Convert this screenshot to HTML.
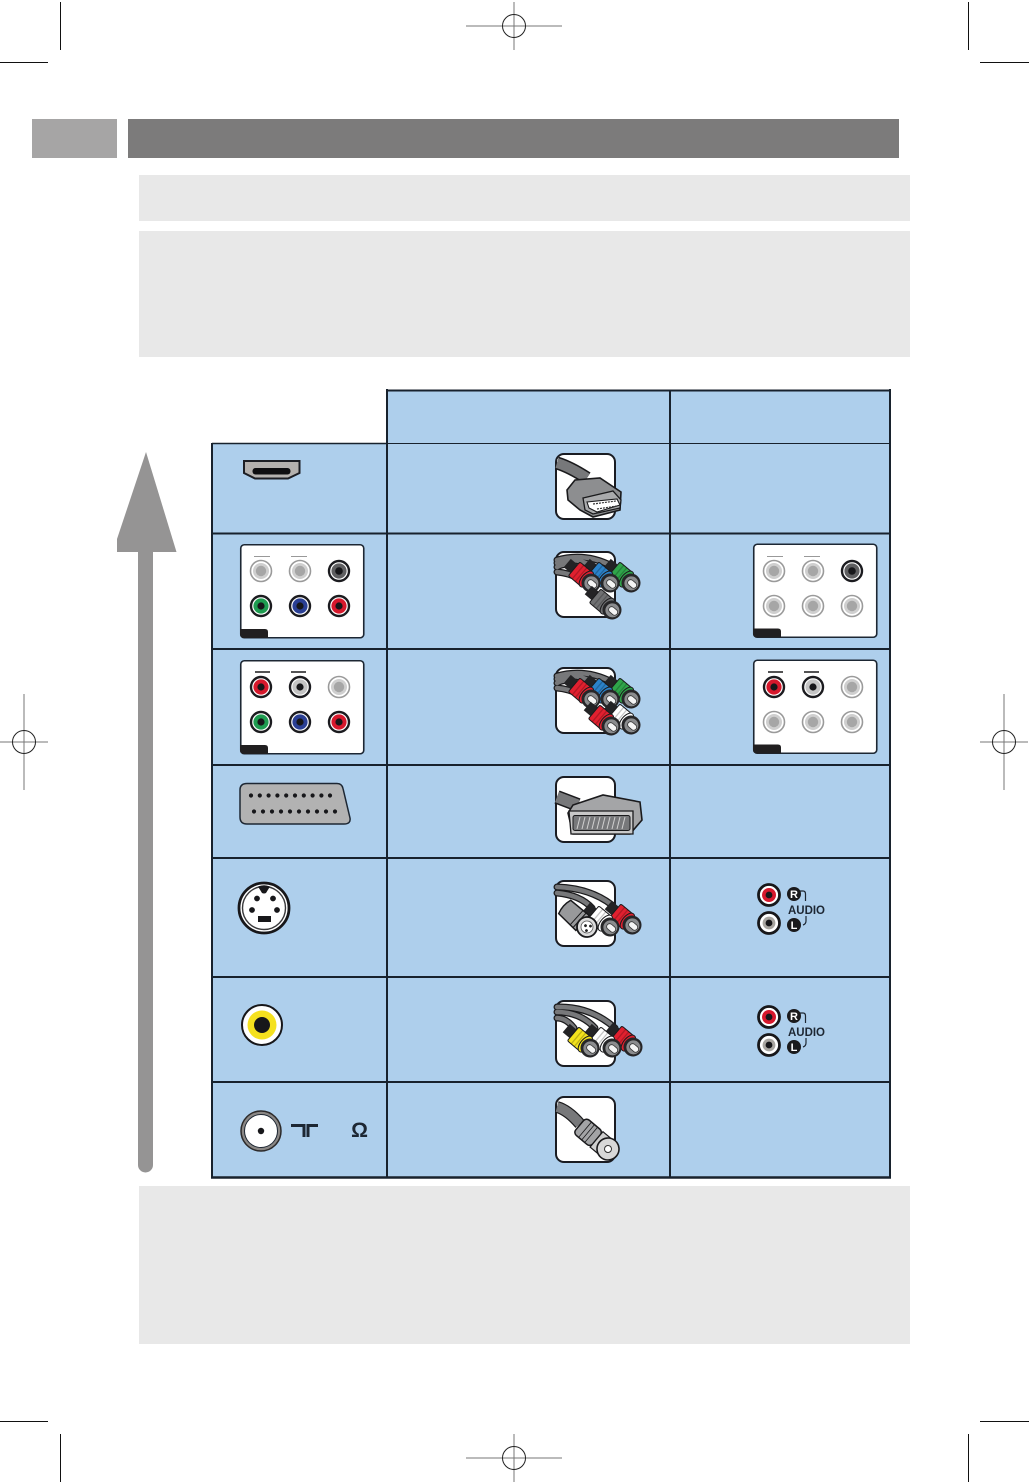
<!DOCTYPE html>
<html><head><meta charset="utf-8"><title>Connection quality</title>
<style>html,body{margin:0;padding:0;background:#fff}svg{display:block}text{font-family:"Liberation Sans",sans-serif}</style></head>
<body>
<svg xmlns="http://www.w3.org/2000/svg" width="1029" height="1483" viewBox="0 0 1029 1483">
<defs>
<g id="reg" fill="none"><path d="M-48 0H48M0 -24V24" stroke="#777" stroke-width="1"/><circle r="11.500" stroke="#222" stroke-width="1"/></g>
<g id="regv" fill="none"><path d="M-24 0H24M0 -48V48" stroke="#777" stroke-width="1"/><circle r="11.500" stroke="#222" stroke-width="1"/></g>
<g id="jg"><circle r="10.500" fill="#fff" stroke="#9a9a9a" stroke-width="1.600"/><circle r="8" fill="#cfcfcf"/><circle r="5.200" fill="#a6a6a6"/></g>
<g id="jk"><circle r="10" fill="#fff" stroke="#1b1b1f" stroke-width="2.400"/><circle r="7.600" fill="#5f5f61"/><circle r="3.800" fill="#17171a"/></g>
<g id="jgr"><circle r="10" fill="#fff" stroke="#1b1b1f" stroke-width="2.400"/><circle r="7.600" fill="#1e9c50"/><circle r="3.600" fill="#17171a"/></g>
<g id="jb"><circle r="10" fill="#fff" stroke="#1b1b1f" stroke-width="2.400"/><circle r="7.600" fill="#2a3f94"/><circle r="3.600" fill="#17171a"/></g>
<g id="jr"><circle r="10" fill="#fff" stroke="#1b1b1f" stroke-width="2.400"/><circle r="7.600" fill="#d6182c"/><circle r="3.600" fill="#17171a"/></g>
<g id="jw"><circle r="10" fill="#fff" stroke="#1b1b1f" stroke-width="2.400"/><circle r="7.600" fill="#c4c4c4"/><circle r="3.600" fill="#17171a"/></g>
<g id="panel"><rect x="0.750" y="0.750" width="123" height="93" rx="3.500" fill="#fff" stroke="#1d2733" stroke-width="1.600"/><path d="M0 85H25q3 0 3 3V94H4q-4 0-4-4Z" fill="#211f20"/></g>
<g id="plug">
<rect x="-31" y="-5.500" width="12" height="11" fill="#232325"/>
<path d="M-22 -7.500Q-22 -9 -20 -9H-8V9H-20Q-22 9 -22 7.500Z" fill="currentColor" stroke="#1a1a1c" stroke-width="1"/>
<path d="M-17 -9V9M-13 -9V9" stroke="#000" stroke-opacity=".22" stroke-width="1.300"/>
<ellipse cx="-6" rx="5" ry="9.500" fill="currentColor" stroke="#1a1a1c" stroke-width="1"/>
<circle cx="0" cy="0" r="9.500" fill="#262628"/>
<circle cx="0.500" cy="0" r="7" fill="#8b8c8e"/>
<rect x="-3.500" y="-3" width="10" height="6" rx="3" fill="#f4f4f4" stroke="#333" stroke-width=".8"/>
</g>
<g id="box"><rect x="0" y="0" width="59" height="65" rx="8" fill="#fff" stroke="#1a1c22" stroke-width="2"/></g>
<g id="audio">
<circle cx="0" cy="0" r="10.500" fill="#fff" stroke="#17171a" stroke-width="2.800"/><circle r="7" fill="#d6182c"/><circle r="3.400" fill="#17171a"/>
<circle cx="0" cy="28" r="10.500" fill="#fff" stroke="#17171a" stroke-width="2.800"/><circle cy="28" r="6.400" fill="#a8a5a0"/><circle cy="28" r="3.400" fill="#17171a"/>
<path d="M31 -4h3q2.500 0 2.500 3v7M37 21v5q0 3-3 4" fill="none" stroke="#1d2733" stroke-width="1.200"/>
<circle cx="25" cy="-1" r="7" fill="#1a1a1c"/><circle cx="25" cy="30" r="7" fill="#1a1a1c"/>
<text x="25" y="3" font-size="11" font-weight="bold" fill="#fff" text-anchor="middle">R</text>
<text x="25" y="34" font-size="11" font-weight="bold" fill="#fff" text-anchor="middle">L</text>
<text x="19" y="19" font-size="11.500" fill="#1d2733" font-weight="bold" textLength="37">AUDIO</text>
</g>
</defs>

<rect width="1029" height="1483" fill="#fff"/>

<!-- crop marks -->
<g stroke="#111" stroke-width="1" fill="none">
<path d="M60.500 2V50M0 62.500H48M968.500 2V50M980 62.500H1029M60.500 1434V1482M0 1421.500H48M968.500 1434V1482M980 1421.500H1029"/>
</g>
<use href="#reg" x="514" y="26"/><use href="#reg" x="514" y="1458"/>
<use href="#regv" x="24" y="742"/><use href="#regv" x="1004" y="742"/>

<!-- header -->
<rect x="32" y="119" width="85" height="39" fill="#a6a5a5"/>
<rect x="128" y="119" width="771" height="39" fill="#7c7b7b"/>
<rect x="139" y="175" width="771" height="46" fill="#e8e8e8"/>
<rect x="139" y="231" width="771" height="126" fill="#e8e8e8"/>
<rect x="139" y="1186" width="771" height="158" fill="#e8e8e8"/>

<!-- arrow -->
<path d="M146 452L176.500 552H117V539Z" fill="#959494"/>
<path d="M138 550H153V1165a7.500 7.500 0 0 1-15 0Z" fill="#959494"/>

<!-- table -->
<rect x="387" y="390" width="503" height="53" fill="#aecfec"/>
<rect x="212" y="443" width="678" height="735" fill="#aecfec"/>
<g stroke="#18222d" fill="none">
<path d="M386 390.500H891" stroke-width="2"/>
<path d="M387 443.500H890" stroke-width="1"/>
<path d="M212 443.500H387" stroke-width="1.500"/>
<path d="M212 533.500H890M212 649H890M212 765H890M212 858H890M212 977H890M212 1082H890" stroke-width="2"/>
<path d="M211 1177.500H891" stroke-width="2.600"/>
<path d="M212 443V1178M387 389V1178M670 390V1178M890 389V1178" stroke-width="2"/>
</g>

<!-- left jacks -->
<path d="M244 461H299.500V473L288 478.500H255L244 473Z" fill="#b4b1ae" stroke="#1c1e24" stroke-width="2"/>
<rect x="252.500" y="468" width="38" height="6.500" rx="3" fill="#0e0e10"/>

<use href="#panel" x="240" y="544"/>
<path d="M254 556.500H270M291 556.500H307" stroke="#999" stroke-width="1"/>
<use href="#jg" x="261" y="571"/><use href="#jg" x="300" y="571"/><use href="#jk" x="339" y="571"/>
<use href="#jgr" x="261" y="606"/><use href="#jb" x="300" y="606"/><use href="#jr" x="339" y="606"/>

<use href="#panel" x="240" y="660"/>
<path d="M255 672H270M291 672H306" stroke="#1a1a1c" stroke-width="1.600"/>
<use href="#jr" x="261" y="687"/><use href="#jw" x="300" y="687"/><use href="#jg" x="339" y="687"/>
<use href="#jgr" x="261" y="722"/><use href="#jb" x="300" y="722"/><use href="#jr" x="339" y="722"/>

<path d="M247 783.500H337q5 0 6 5L350 818q1 6-6 6H247q-7 0-7-7V790q0-6.500 7-6.500Z" fill="#b2b2b2" stroke="#1d2733" stroke-width="1.500"/>
<g fill="#17171a">
<circle cx="251" cy="795.500" r="2.100"/><circle cx="259.800" cy="795.500" r="2.100"/><circle cx="268.600" cy="795.500" r="2.100"/><circle cx="277.400" cy="795.500" r="2.100"/><circle cx="286.200" cy="795.500" r="2.100"/><circle cx="295" cy="795.500" r="2.100"/><circle cx="303.800" cy="795.500" r="2.100"/><circle cx="312.600" cy="795.500" r="2.100"/><circle cx="321.400" cy="795.500" r="2.100"/><circle cx="330" cy="795.500" r="2.100"/>
<circle cx="254" cy="811.500" r="2.100"/><circle cx="263" cy="811.500" r="2.100"/><circle cx="272" cy="811.500" r="2.100"/><circle cx="281" cy="811.500" r="2.100"/><circle cx="290" cy="811.500" r="2.100"/><circle cx="299" cy="811.500" r="2.100"/><circle cx="308" cy="811.500" r="2.100"/><circle cx="317" cy="811.500" r="2.100"/><circle cx="326" cy="811.500" r="2.100"/><circle cx="335" cy="811.500" r="2.100"/>
</g>

<circle cx="264" cy="908" r="25" fill="#fff" stroke="#17171a" stroke-width="2.800"/>
<circle cx="264" cy="908" r="21.500" fill="#fff" stroke="#3a3a3c" stroke-width="1.400"/>
<path d="M258 886.500Q264 884 270 886.500L266 893Q264 894 262 893Z" fill="#17171a"/>
<g fill="#17171a"><circle cx="257" cy="898.500" r="2.900"/><circle cx="273" cy="898.500" r="2.900"/><circle cx="252" cy="910" r="2.900"/><circle cx="277" cy="910" r="2.900"/><rect x="258" y="916" width="13" height="6"/></g>

<circle cx="262" cy="1025" r="20" fill="#fff" stroke="#17171a" stroke-width="2"/>
<circle cx="262" cy="1025" r="14.500" fill="#f5e11e"/>
<circle cx="262" cy="1025" r="8" fill="#17171a"/>

<circle cx="261" cy="1131" r="20" fill="#8a8785" stroke="#2c2a2a" stroke-width="1.500"/>
<circle cx="261" cy="1131" r="16.500" fill="#fff" stroke="#1d2733" stroke-width="1"/>
<circle cx="261" cy="1131" r="3.200" fill="#17171a"/>
<path d="M291 1125.500H304V1137M318 1125.500H308V1137" fill="none" stroke="#1d2733" stroke-width="3"/>
<text x="359.500" y="1137" font-size="21" font-weight="bold" fill="#1d2733" text-anchor="middle" style="font-family:'Liberation Sans',sans-serif">Ω</text>

<!-- right jacks -->
<use href="#panel" x="753" y="543.500"/>
<path d="M767 556.500H783M804 556.500H820" stroke="#999" stroke-width="1"/>
<use href="#jg" x="774" y="571"/><use href="#jg" x="813" y="571"/><use href="#jk" x="852" y="571"/>
<use href="#jg" x="774" y="606"/><use href="#jg" x="813" y="606"/><use href="#jg" x="852" y="606"/>
<use href="#panel" x="753" y="659.500"/>
<path d="M768 672H783M804 672H819" stroke="#1a1a1c" stroke-width="1.600"/>
<use href="#jr" x="774" y="687"/><use href="#jw" x="813" y="687"/><use href="#jg" x="852" y="687"/>
<use href="#jg" x="774" y="722"/><use href="#jg" x="813" y="722"/><use href="#jg" x="852" y="722"/>

<use href="#audio" x="769" y="895"/>
<use href="#audio" x="769" y="1017"/>

<!-- HDMI connector -->
<use href="#box" x="556" y="454"/>
<path d="M557 463Q570 467 587 478" fill="none" stroke="#1a1a1c" stroke-width="13"/>
<path d="M557 463Q570 467 587 478" fill="none" stroke="#77787a" stroke-width="10"/>
<path d="M567 490L575 480L600 478L621 492L620 510L593 517L580 510L568 500Z" fill="#8d8e90" stroke="#1a1a1c" stroke-width="1.600"/>
<path d="M583 498L613 491L621 500L620 508L593 514L585 510Z" fill="#a9aaac" stroke="#1a1a1c" stroke-width="1.300"/>
<path d="M587 502L617 499L620 505L597 512L589 508Z" fill="#fff" stroke="#1a1a1c" stroke-width="1.100"/>
<path d="M593 504L616 501M597 509L617 506" stroke="#333" stroke-width="1.200" stroke-dasharray="2 1"/>

<!-- Component 1 -->
<use href="#box" x="556" y="552"/>
<g fill="none" stroke-linecap="round">
<g stroke="#1a1a1c" stroke-width="7"><path d="M557 560Q585 552 612 566"/><path d="M557 563Q575 556 592 566"/><path d="M557 567Q566 562 574 567"/><path d="M557 572Q580 574 594 592"/></g>
<g stroke="#77787a" stroke-width="4.500"><path d="M557 560Q585 552 612 566"/><path d="M557 563Q575 556 592 566"/><path d="M557 567Q566 562 574 567"/><path d="M557 572Q580 574 594 592"/></g>
</g>
<use href="#plug" transform="translate(631 583) rotate(40)" color="#2fa54a"/>
<use href="#plug" transform="translate(610 583) rotate(40)" color="#2b82c9"/>
<use href="#plug" transform="translate(591 583) rotate(40)" color="#e0202f"/>
<use href="#plug" transform="translate(612 610) rotate(40)" color="#6f7072"/>

<!-- Component 2 -->
<use href="#box" x="556" y="668"/>
<g fill="none" stroke-linecap="round">
<g stroke="#1a1a1c" stroke-width="7"><path d="M557 676Q585 668 612 682"/><path d="M557 679Q575 672 592 682"/><path d="M557 683Q566 678 574 683"/><path d="M557 688Q580 690 594 707"/></g>
<g stroke="#77787a" stroke-width="4.500"><path d="M557 676Q585 668 612 682"/><path d="M557 679Q575 672 592 682"/><path d="M557 683Q566 678 574 683"/><path d="M557 688Q580 690 594 707"/></g>
</g>
<use href="#plug" transform="translate(631 699) rotate(40)" color="#2fa54a"/>
<use href="#plug" transform="translate(610 699) rotate(40)" color="#2b82c9"/>
<use href="#plug" transform="translate(591 699) rotate(40)" color="#e0202f"/>
<use href="#plug" transform="translate(631 725) rotate(40)" color="#ffffff"/>
<use href="#plug" transform="translate(611 726) rotate(40)" color="#e0202f"/>

<!-- SCART connector -->
<use href="#box" x="556" y="777"/>
<path d="M557 797L578 805" fill="none" stroke="#1a1a1c" stroke-width="14"/>
<path d="M557 797L578 805" fill="none" stroke="#77787a" stroke-width="11"/>
<path d="M568 813L573 805L603 795L640 802L642 820L630 834L573 834Z" fill="#a4a5a7" stroke="#1a1a1c" stroke-width="1.600"/>
<path d="M569 811H633V834H571Z" fill="#c8c8c8" stroke="#1a1a1c" stroke-width="1.300"/>
<rect x="573" y="815.500" width="57" height="15" rx="2" fill="#77787a" stroke="#1a1a1c"/>
<path d="M577 829L580 817M582 829L585 817M587 829L590 817M592 829L595 817M597 829L600 817M602 829L605 817M607 829L610 817M612 829L615 817M617 829L620 817M622 829L625 817" stroke="#d0d0d0" stroke-width="1"/>

<!-- S-video -->
<use href="#box" x="556" y="881"/>
<g fill="none" stroke-linecap="round">
<g stroke="#1a1a1c" stroke-width="7"><path d="M557 887Q590 888 612 905"/><path d="M557 893Q580 895 592 908"/></g>
<g stroke="#77787a" stroke-width="4.500"><path d="M557 887Q590 888 612 905"/><path d="M557 893Q580 895 592 908"/></g>
</g>
<use href="#plug" transform="translate(632 925) rotate(40)" color="#e0202f"/>
<use href="#plug" transform="translate(610 927) rotate(40)" color="#ffffff"/>
<g transform="translate(587 927) rotate(42)">
<path d="M-30 -9Q-33 0 -30 9L-6 10V-10Z" fill="#98999b" stroke="#1a1a1c" stroke-width="1.500"/>
<path d="M-14 -10V10M-10 -10V10" stroke="#1a1a1c" stroke-width="1"/>
<circle r="10" fill="#dcdcdc" stroke="#1a1a1c" stroke-width="1.800"/>
<circle r="6" fill="#fff" stroke="#555" stroke-width=".8"/>
<circle cx="2" cy="-3" r="1.400" fill="#222"/><circle cx="2" cy="3" r="1.400" fill="#222"/><circle cx="-2" r="1.400" fill="#222"/>
</g>

<!-- Composite -->
<use href="#box" x="556" y="1001"/>
<g fill="none" stroke-linecap="round">
<g stroke="#1a1a1c" stroke-width="7"><path d="M557 1007Q590 1006 615 1028"/><path d="M557 1012Q580 1012 595 1028"/><path d="M557 1018Q566 1018 574 1028"/></g>
<g stroke="#77787a" stroke-width="4.500"><path d="M557 1007Q590 1006 615 1028"/><path d="M557 1012Q580 1012 595 1028"/><path d="M557 1018Q566 1018 574 1028"/></g>
</g>
<use href="#plug" transform="translate(633 1047) rotate(40)" color="#e0202f"/>
<use href="#plug" transform="translate(612 1048) rotate(40)" color="#ffffff"/>
<use href="#plug" transform="translate(590 1048) rotate(40)" color="#f3e21c"/>

<!-- Antenna -->
<use href="#box" x="556" y="1097"/>
<path d="M557 1107Q568 1110 580 1124" fill="none" stroke="#1a1a1c" stroke-width="12"/>
<path d="M557 1107Q568 1110 580 1124" fill="none" stroke="#77787a" stroke-width="9.500"/>
<g transform="translate(608 1149) rotate(40)">
<rect x="-37" y="-10" width="22" height="20" rx="4" fill="#a3a4a6" stroke="#1a1a1c" stroke-width="1.500"/>
<path d="M-30 -10V10M-26 -10V10M-22 -10V10" stroke="#1a1a1c" stroke-width=".8"/>
<rect x="-15" y="-10" width="13" height="20" fill="#cfcfcf" stroke="#1a1a1c" stroke-width="1.200"/>
<circle r="11" fill="#d8d8d8" stroke="#1a1a1c" stroke-width="1.600"/>
<circle r="3.500" fill="#fff" stroke="#333"/></g>
</svg>
</body></html>
